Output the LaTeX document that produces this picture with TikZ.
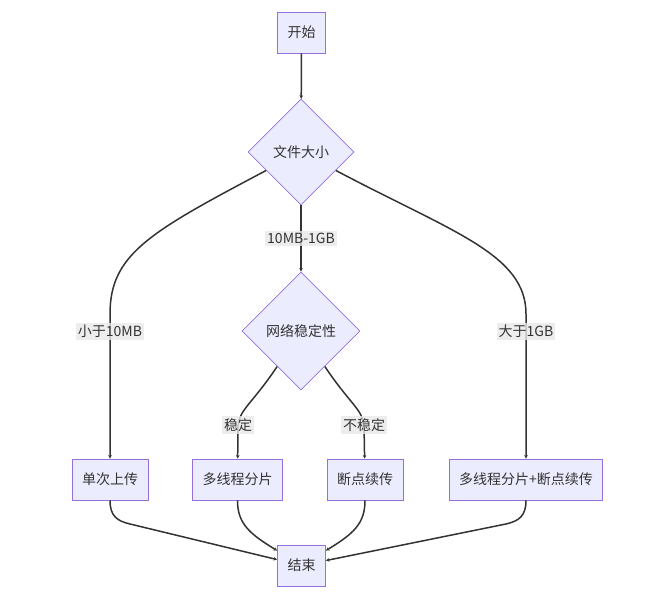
\documentclass[tikz,border=0pt]{standalone}
\usepackage{fontspec}
\setmainfont{Noto Sans CJK SC}
\usepackage{xcolor}
\usepackage{tikz}
\usetikzlibrary{shapes.geometric,arrows.meta}

\definecolor{nodefill}{HTML}{ECECFF}
\definecolor{nodeline}{HTML}{9370DB}
\definecolor{edgeline}{HTML}{333333}
\definecolor{labelfill}{HTML}{E8E8E8}

\begin{document}
\begin{tikzpicture}[x=1pt, y=1pt, ->, >={Stealth[length=3.5pt,width=3.5pt]},
		every node/.style={font=\fontsize{14}{16}\selectfont, text=edgeline},
		box/.style={draw=nodeline, fill=nodefill, line width=0.8pt, minimum height=41pt, inner xsep=10pt},
		choice/.style={diamond, shape aspect=1, draw=nodeline, fill=nodefill, line width=0.8pt, inner sep=0pt},
		lbl/.style={fill=labelfill, fill opacity=0.8, text opacity=1, inner sep=2pt},
		flow/.style={draw=edgeline, line width=1.5pt}]
			\useasboundingbox (0,0) rectangle (654,604);

			\node[box] (start) at (301.5,571.5) {开始};
			\node[choice, minimum size=106pt] (size) at (301,452) {文件大小};
			\node[choice, minimum size=118pt] (net) at (301,273) {网络稳定性};
			\node[box] (small) at (110,124.5) {单次上传};
			\node[box] (mt) at (237.5,124.5) {多线程分片};
			\node[box] (bp) at (365,124.5) {断点续传};
			\node[box] (both) at (526,124.5) {多线程分片+断点续传};
			\node[box] (end) at (301.5,38.5) {结束};

			\path (start) edge[flow] (size);
			\path (size) edge[flow] node[lbl] {10MB-1GB} (net);
			\draw[flow] (size) .. controls (150,372) and (110,350) .. (110,290) -- node[lbl, pos=0.12] {小于10MB} (small);
			\draw[flow] (size) .. controls (452,372) and (526,350) .. (526,290) -- node[lbl, pos=0.12] {大于1GB} (both);
			\draw[flow] (net) .. controls (252,200) and (240,195) .. (238,179) node[lbl] {稳定} -- (mt);
			\draw[flow] (net) .. controls (350,200) and (362,195) .. (364,179) node[lbl] {不稳定} -- (bp);

			\draw[flow] (small) .. controls (110,88) and (117,83) .. (130,80) -- (end);
			\draw[flow] (mt) .. controls (237.5,80) and (250,70) .. (end);
			\draw[flow] (bp) .. controls (365,80) and (353,70) .. (end);
			\draw[flow] (both) .. controls (526,88) and (519,83) .. (506,80) -- (end);
		\end{tikzpicture}
\end{document}
